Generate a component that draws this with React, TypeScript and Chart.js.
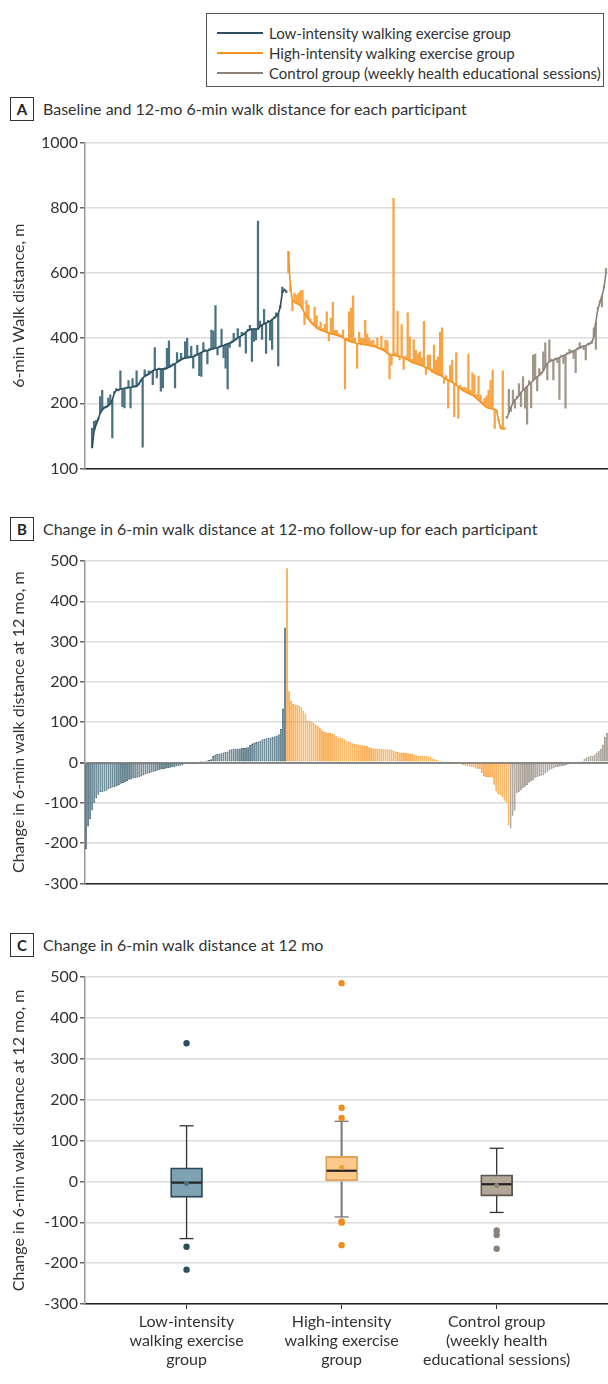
import React, { useEffect, useRef } from 'react';
import { Chart, registerables } from 'chart.js';
Chart.register(...registerables);

const FONT = 'Lato, "Open Sans", sans-serif';
const TEXT = '#333333';

const C_LOW = '#2b4f5e';
const C_HIGH = '#f7941d';
const C_CTRL = '#8c8279';

// ---------- Panel A: baseline (sorted line) and 12-mo values per participant ----------
const LOW_BASE = [63,115,135,150,170,180,186,188,192,198,210,232,240,242,244,245,246,247,248,249,250,251,252,258,268,278,283,286,289,295,300,303,304,305,305,306,305,308,311,314,318,322,326,330,334,337,339,340,341,342,344,346,349,353,356,359,361,362,364,366,368,370,371,373,376,378,381,383,385,387,391,396,401,405,408,412,418,423,426,428,428,428,428,436,441,444,447,450,452,458,462,468,475,495,540,548,546];
const LOW_12MO = [124,145,148,155,221,240,190,192,216,226,94,236,245,238,300,190,186,250,270,186,276,255,300,262,272,65,303,290,300,298,257,371,278,308,237,247,310,369,392,318,322,247,356,334,354,340,390,400,345,375,308,350,378,285,283,387,365,321,368,425,423,500,349,377,428,340,308,244,372,392,415,400,430,374,418,416,354,427,440,329,390,395,760,453,396,489,353,455,394,366,466,478,315,500,557,552,540];
const HIGH_BASE = [667,560,516,512,507,504,500,490,478,466,458,450,443,438,432,428,425,423,421,418,416,414,412,411,409,407,405,402,398,394,391,389,388,386,384,383,382,381,380,379,378,376,375,374,371,368,366,363,359,354,351,349,348,347,345,344,343,340,337,334,330,327,324,322,320,318,316,313,310,307,305,297,295,291,288,286,283,279,274,271,268,265,261,256,251,246,241,237,234,231,228,225,221,215,210,204,198,193,188,185,184,183,181,175,145,123,121,121];
const HIGH_12MO = [600,545,484,539,532,539,546,547,442,516,501,460,450,496,470,436,450,430,443,481,392,462,511,424,424,414,410,426,244,400,481,493,530,400,307,418,400,400,455,413,400,391,394,380,401,372,407,370,394,392,275,317,830,355,483,333,442,304,345,478,404,335,396,363,353,358,340,452,289,348,348,305,379,333,343,419,432,261,285,185,317,333,159,355,154,255,248,250,246,351,240,294,287,226,284,226,205,215,223,241,271,302,123,180,150,130,300,125];
const CTRL_BASE = [154,170,188,200,210,216,224,233,240,246,252,258,264,270,276,281,286,291,300,312,323,328,331,333,335,338,341,343,346,350,352,355,358,361,364,367,370,373,376,378,380,383,386,405,450,490,510,530,555,600];
const CTRL_12MO = [160,243,175,241,185,222,261,190,282,185,136,270,186,348,351,238,307,296,358,386,272,395,336,272,340,325,212,348,323,185,356,366,362,338,294,371,387,377,365,333,384,387,392,432,366,495,515,496,560,615];
const A_TICKS = [0, 200, 400, 600, 800, 1000];
const A_TICK_LABELS = ['100', '200', '400', '600', '800', '1000'];

// ---------- Panel B: change at 12 mo per participant (sorted) ----------
const LOW_CHANGE = [-215,-159,-140,-119,-101,-88,-80,-74,-73,-72,-70,-66,-64,-62,-61,-59,-56,-53,-51,-49,-46,-43,-42,-40,-39,-38,-36,-34,-32,-30,-28,-26,-25,-23,-21,-19,-18,-17,-16,-15,-14,-13,-12,-11,-10,-9,-8,-7,-3,-2,-2,-1,-1,-1,0,0,1,3,4,5,6,8,16,20,21,22,23,25,26,27,31,33,34,34,35,35,36,36,37,38,44,47,49,51,52,54,58,59,60,61,62,64,65,67,70,83,134,335];
const HIGH_CHANGE = [482,177,153,145,144,143,141,137,128,121,104,103,100,98,93,90,86,80,76,75,73,73,72,70,66,62,61,61,58,54,52,50,48,46,45,44,43,43,42,41,38,36,35,35,35,34,34,33,33,33,32,31,29,27,26,25,25,25,24,23,22,21,19,18,17,16,16,16,16,15,14,9,8,6,5,4,2,2,1,1,0,0,-1,-3,-4,-5,-6,-8,-9,-10,-11,-12,-15,-16,-17,-26,-34,-36,-36,-37,-38,-55,-72,-78,-82,-86,-95,-99,-155];
const CTRL_CHANGE = [-164,-132,-119,-76,-73,-68,-64,-60,-56,-50,-47,-44,-38,-36,-34,-33,-32,-27,-23,-20,-17,-14,-12,-11,-10,-9,-8,-7,-5,-3,-2,-1,0,1,2,4,9,13,15,16,17,20,25,29,34,44,64,74];

// ---------- Panel C: box plot summary ----------
const BOX_LABELS = [
  ['Low-intensity', 'walking exercise', 'group'],
  ['High-intensity', 'walking exercise', 'group'],
  ['Control group', '(weekly health', 'educational sessions)'],
];
const BOX_Q1 = [-39, 0, -36];
const BOX_Q3 = [33, 61, 16];
const BOX_MEDIAN = [-3, 26, -7];
const BOX_MEAN = [-5, 34, -10];
const BOX_WHISKER_LOW = [-140, -87, -76];
const BOX_WHISKER_HIGH = [136, 147, 81];
const OUTLIERS = [
  [338, -160, -216],
  [485, 180, 155, -98, -101, -156],
  [-120, -131, -165],
];

const BOX_FILL = ['#7ea4b3', '#fdc98b', '#b2a796'];
const BOX_EDGE = ['#2f4a55', '#e0a056', '#5e574f'];
const WHISKER = ['#333333', '#777777', '#333333'];
const DOT = ['#2b4f5e', '#f08c1a', '#8c8279'];
const MEAN_DOT = ['#4d7382', '#f0a035', '#8c8279'];

const LEGEND = [
  { label: 'Low-intensity walking exercise group', color: C_LOW },
  { label: 'High-intensity walking exercise group', color: C_HIGH },
  { label: 'Control group (weekly health educational sessions)', color: C_CTRL },
];

const tickFont = { family: FONT, size: 16 };

function yAxis(title: string, min: number, max: number, step: number, extra: any = {}) {
  return {
    type: 'linear',
    min,
    max,
    afterFit: (s: any) => { s.width = 85; },
    ticks: { stepSize: step, color: TEXT, font: tickFont, padding: 2, ...(extra.ticks || {}) },
    grid: {
      color: extra.gridColor || '#dcdcdc',
      lineWidth: extra.gridWidth || 1.5,
      tickColor: '#666',
      tickLength: 5,
    },
    border: { color: '#999', width: 1.5 },
    title: {
      display: true,
      text: title,
      color: TEXT,
      font: { family: FONT, size: 16 },
      padding: { top: 9, bottom: 0 },
    },
    ...(extra.afterBuildTicks ? { afterBuildTicks: extra.afterBuildTicks } : {}),
  };
}

export default function App() {
  const aRef = useRef<HTMLCanvasElement>(null);
  const bRef = useRef<HTMLCanvasElement>(null);
  const cRef = useRef<HTMLCanvasElement>(null);

  useEffect(() => {
    const charts: Chart[] = [];
    const offHigh = LOW_BASE.length;
    const offCtrl = offHigh + HIGH_BASE.length;
    const bars = (base: number[], fol: number[], off: number) => base.map((b, i) => ({ x: off + i, y: [b, fol[i]] }));
    const line = (base: number[], off: number) => base.map((b, i) => ({ x: off + i, y: b }));
    const barDs = (data: any, color: string) => ({
      type: 'bar', data, backgroundColor: color, barThickness: 1.6, grouped: false, order: 2,
    });
    const lineDs = (data: any, color: string) => ({
      type: 'line', data, borderColor: color, borderWidth: 1.6, pointRadius: 0, tension: 0, order: 1,
    });

    // Panel A
    charts.push(new Chart(aRef.current!, {
      type: 'bar',
      data: {
        datasets: [
          barDs(bars(LOW_BASE, LOW_12MO, 0), '#4b7283'),
          barDs(bars(HIGH_BASE, HIGH_12MO, offHigh), '#f8a444'),
          barDs(bars(CTRL_BASE, CTRL_12MO, offCtrl), '#a09789'),
          lineDs(line(LOW_BASE, 0), C_LOW),
          lineDs(line(HIGH_BASE, offHigh), C_HIGH),
          lineDs(line(CTRL_BASE, offCtrl), C_CTRL),
        ] as any,
      },
      options: {
        responsive: false,
        animation: false,
        layout: { autoPadding: false, padding: { top: 18, right: 0, left: 0, bottom: 0 } },
        plugins: { legend: { display: false }, tooltip: { enabled: false } },
        scales: {
          x: {
            type: 'linear', min: -3.5, max: offCtrl + CTRL_BASE.length, offset: false,
            afterFit: (s: any) => { s.height = 9; },
            ticks: { display: false }, grid: { display: false, offset: false },
            border: { color: '#222', width: 1.5 },
          },
          y: yAxis('6-min Walk distance, m', 0, 1000, 200, {
            afterBuildTicks: (s: any) => { s.ticks = A_TICKS.map((v) => ({ value: v })); },
            ticks: { callback: (v: any) => A_TICK_LABELS[A_TICKS.indexOf(Number(v))] ?? '' },
          }),
        } as any,
      },
    }));

    // Panel B
    const total = LOW_CHANGE.length + HIGH_CHANGE.length + CTRL_CHANGE.length;
    const labels = Array.from({ length: total }, (_, i) => String(i));
    const hOff = LOW_CHANGE.length;
    const cOff = hOff + HIGH_CHANGE.length;
    const chg = (arr: number[], off: number) => arr.map((v, i) => ({ x: String(off + i), y: v }));
    const bBar = (data: any, fill: string, edge: string) => ({
      data, backgroundColor: fill, borderColor: edge, borderWidth: 0.7, borderSkipped: false,
      barPercentage: 0.9, categoryPercentage: 1, grouped: false,
    });
    charts.push(new Chart(bRef.current!, {
      type: 'bar',
      data: {
        labels,
        datasets: [
          bBar(chg(LOW_CHANGE, 0), '#56808f', C_LOW),
          bBar(chg(HIGH_CHANGE, hOff), '#f9aa4e', C_HIGH),
          bBar(chg(CTRL_CHANGE, cOff), '#a39a8d', C_CTRL),
        ] as any,
      },
      options: {
        responsive: false,
        animation: false,
        layout: { autoPadding: false, padding: { top: 16, right: 0, left: 0, bottom: 0 } },
        plugins: { legend: { display: false }, tooltip: { enabled: false } },
        scales: {
          x: {
            afterFit: (s: any) => { s.height = 8; },
            ticks: { display: false }, grid: { display: false },
            border: { color: '#222', width: 1.5 },
          },
          y: yAxis('Change in 6-min walk distance at 12 mo, m', -300, 500, 100, {
            gridColor: (c: any) => (c.tick && c.tick.value === 0 ? '#888888' : '#dcdcdc'),
            gridWidth: (c: any) => (c.tick && c.tick.value === 0 ? 2 : 1.5),
          }),
        } as any,
      },
    }));

    // Panel C
    const cats = [1, 2, 3];
    const ds: any[] = [];
    ds.push({
      type: 'bar',
      data: cats.map((x, i) => ({ x, y: [BOX_Q1[i], BOX_Q3[i]] })),
      backgroundColor: BOX_FILL, borderColor: BOX_EDGE, borderWidth: 1.8, borderSkipped: false,
      barThickness: 32, grouped: false, order: 3,
    });
    cats.forEach((x, i) => {
      ds.push({
        type: 'line',
        data: [
          { x, y: BOX_WHISKER_HIGH[i] }, { x, y: BOX_Q3[i] }, { x, y: null },
          { x, y: BOX_Q1[i] }, { x, y: BOX_WHISKER_LOW[i] },
        ],
        borderColor: WHISKER[i], borderWidth: i === 1 ? 2 : 1.3, pointRadius: 0, spanGaps: false, order: 4,
      });
      ds.push({
        type: 'scatter',
        data: [{ x, y: BOX_WHISKER_HIGH[i] }, { x, y: BOX_WHISKER_LOW[i] }],
        pointStyle: 'line', pointRadius: 7, borderColor: WHISKER[i], borderWidth: 1.3, order: 2,
      });
      ds.push({
        type: 'scatter',
        data: [{ x, y: BOX_MEDIAN[i] }],
        pointStyle: 'line', pointRadius: 15, borderColor: '#222', borderWidth: 2.2, order: 1,
      });
      ds.push({
        type: 'scatter',
        data: [{ x, y: BOX_MEAN[i] }],
        pointStyle: 'circle', pointRadius: 2.5, backgroundColor: MEAN_DOT[i], borderWidth: 0, order: 0,
      });
      ds.push({
        type: 'scatter',
        data: OUTLIERS[i].map((y) => ({ x, y })),
        pointStyle: 'circle', pointRadius: 3.2, backgroundColor: DOT[i], borderWidth: 0, order: 0,
      });
    });
    charts.push(new Chart(cRef.current!, {
      type: 'bar',
      data: { datasets: ds },
      options: {
        responsive: false,
        animation: false,
        layout: { autoPadding: false, padding: { top: 12, right: 0, left: 0, bottom: 0 } },
        plugins: { legend: { display: false }, tooltip: { enabled: false } },
        scales: {
          x: {
            type: 'linear', min: 0.345, max: 3.718, offset: false,
            afterBuildTicks: (s: any) => { s.ticks = cats.map((v) => ({ value: v })); },
            afterFit: (s: any) => { s.height = 80; s.paddingLeft = 0; s.paddingRight = 0; },
            ticks: {
              color: TEXT, font: tickFont, padding: 3, autoSkip: false, maxRotation: 0,
              callback: (v: any) => BOX_LABELS[Number(v) - 1] ?? '',
            },
            grid: { drawOnChartArea: false, drawTicks: true, tickLength: 5, tickColor: '#333', offset: false },
            border: { color: '#222', width: 1.5 },
          },
          y: yAxis('Change in 6-min walk distance at 12 mo, m', -300, 500, 100),
        } as any,
      },
    }));

    return () => charts.forEach((c) => c.destroy());
  }, []);

  const abs = (top: number, height: number): React.CSSProperties => ({
    position: 'absolute', left: 0, top, width: 608, height,
  });

  const panelLabel = (letter: string, top: number, text: string) => (
    <React.Fragment key={letter}>
      <div style={{
        position: 'absolute', left: 10, top, width: 22, height: 22, border: '1px solid #333',
        display: 'flex', alignItems: 'center', justifyContent: 'center',
        fontFamily: FONT, fontWeight: 700, fontSize: 15, color: '#222',
      }}>{letter}</div>
      <div style={{
        position: 'absolute', left: 43, top, height: 24, lineHeight: '24px',
        fontFamily: FONT, fontSize: 16, color: TEXT, whiteSpace: 'nowrap',
      }}>{text}</div>
    </React.Fragment>
  );

  return (
    <div style={{ position: 'absolute', left: 0, top: 0, width: 608, height: 1384, background: '#fff', overflow: 'hidden' }}>
      <div style={{
        position: 'absolute', left: 206, top: 13, width: 398, height: 74,
        border: '1px solid #555', boxSizing: 'border-box',
      }}>
        {LEGEND.map((l, i) => (
          <div key={l.label} style={{ position: 'absolute', left: 10, top: 9 + i * 20, height: 20, display: 'flex', alignItems: 'center' }}>
            <div style={{ width: 46, height: 2, background: l.color, marginRight: 6 }} />
            <div style={{ fontFamily: FONT, fontSize: 15, color: TEXT, whiteSpace: 'nowrap', lineHeight: '20px' }}>{l.label}</div>
          </div>
        ))}
      </div>
      {panelLabel('A', 97, 'Baseline and 12-mo 6-min walk distance for each participant')}
      {panelLabel('B', 517, 'Change in 6-min walk distance at 12-mo follow-up for each participant')}
      {panelLabel('C', 933, 'Change in 6-min walk distance at 12 mo')}
      <canvas ref={aRef} width={608} height={355} style={abs(125, 355)} />
      <canvas ref={bRef} width={608} height={350} style={abs(545, 350)} />
      <canvas ref={cRef} width={608} height={419} style={abs(965, 419)} />
    </div>
  );
}
